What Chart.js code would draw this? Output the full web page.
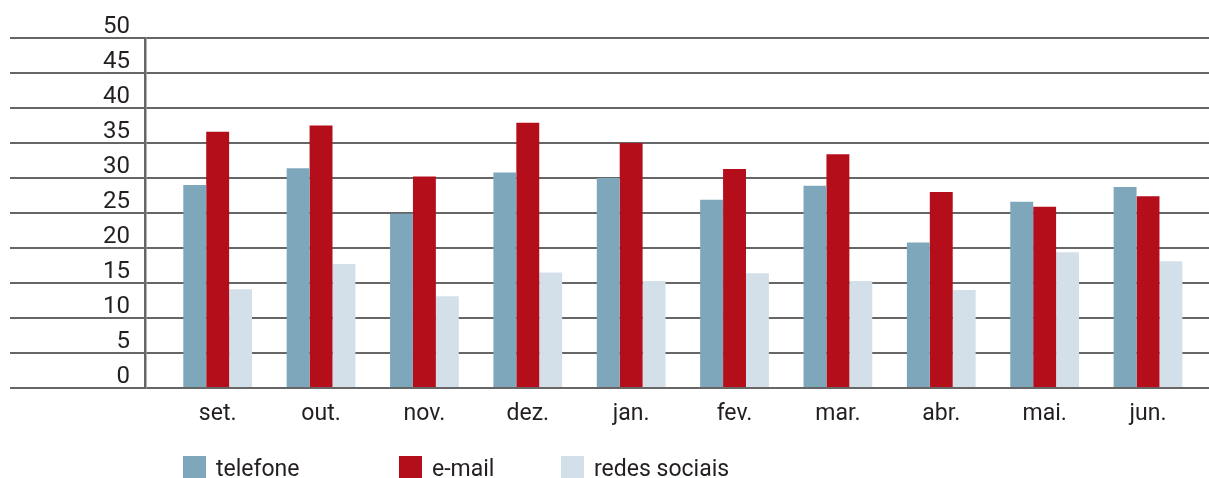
<!DOCTYPE html>
<html>
<head>
<meta charset="utf-8">
<script src="https://cdn.jsdelivr.net/npm/chart.js@4.4.0/dist/chart.umd.min.js"></script>
<style>
  body { margin: 0; background: #fff; }
  #wrap { position: relative; width: 1209px; height: 478px; }
  #legend { position: absolute; left: 0; top: 456px; width: 1209px; height: 22px; font-family: Roboto, sans-serif; font-size: 23px; color: #231f20; }
  .item { position: absolute; top: 0; display: flex; align-items: flex-start; }
  .box { width: 23px; height: 22px; margin-right: 10px; }
  .item span { line-height: 23px; margin-top: 1px; white-space: nowrap; }
</style>
</head>
<body>
<div id="wrap">
  <canvas id="myChart"></canvas>
  <div id="legend"></div>
</div>
<script>
const months = ['set.', 'out.', 'nov.', 'dez.', 'jan.', 'fev.', 'mar.', 'abr.', 'mai.', 'jun.'];
const telefone = [29.0, 31.4, 24.9, 30.8, 30.0, 26.9, 28.9, 20.8, 26.6, 28.7];
const email = [36.6, 37.5, 30.2, 37.9, 35.0, 31.3, 33.4, 28.0, 25.9, 27.4];
const redesSociais = [14.1, 17.7, 13.1, 16.5, 15.3, 16.4, 15.3, 14.0, 19.4, 18.1];
const yTicks = [0, 5, 10, 15, 20, 25, 30, 35, 40, 45, 50];

const gridColor = '#666666';
const textColor = '#231f20';

function points(values) {
  return values.map((v, i) => ({ x: i, y: v }));
}

const ctx = document.getElementById('myChart').getContext('2d');

const chart = new Chart(ctx, {
  type: 'bar',
  data: {
    datasets: [
      { label: 'telefone', backgroundColor: '#7fa7bc', data: points(telefone) },
      { label: 'e-mail', backgroundColor: '#b40e1b', data: points(email) },
      { label: 'redes sociais', backgroundColor: '#d3e0e9', data: points(redesSociais) },
    ],
  },
  options: {
    responsive: true,
    maintainAspectRatio: false,
    animation: false,
    layout: { padding: { top: 38, right: 0, left: 0, bottom: 0 } },
    datasets: {
      bar: { categoryPercentage: 0.665, barPercentage: 1, borderWidth: 0 }
    },
    plugins: {
      legend: { display: false },
      tooltip: { enabled: false },
    },
    scales: {
      x: {
        type: 'linear',
        offset: false,
        min: -0.703,
        max: 9.59,
        grid: { display: false },
        border: { display: false },
        afterFit: (s) => { s.height = 90; },
        afterBuildTicks: (s) => { s.ticks = months.map((m, i) => ({ value: i })); },
        ticks: {
          autoSkip: false,
          maxRotation: 0,
          padding: 4,
          color: textColor,
          font: { family: 'Roboto', size: 23 },
          callback: (v) => months[v],
        },
      },
      y: {
        min: 0,
        max: 50,
        afterFit: (s) => { s.width = 145; },
        afterBuildTicks: (s) => { s.ticks = yTicks.map(v => ({ value: v })); },
        grid: { color: gridColor, lineWidth: 2, tickLength: 135, drawTicks: true },
        border: { display: true, color: gridColor, width: 2.5 },
        ticks: {
          padding: -120,
          labelOffset: -11,
          color: textColor,
          font: { family: 'Roboto', size: 24 },
        },
      },
    },
  },
});

// html legend
const legendLeft = [183, 399, 561];
const legendEl = document.getElementById('legend');
chart.data.datasets.forEach((ds, i) => {
  const item = document.createElement('div');
  item.className = 'item';
  item.style.left = legendLeft[i] + 'px';
  const box = document.createElement('div');
  box.className = 'box';
  box.style.background = ds.backgroundColor;
  const label = document.createElement('span');
  label.textContent = ds.label;
  item.appendChild(box);
  item.appendChild(label);
  legendEl.appendChild(item);
});
</script>
</body>
</html>
